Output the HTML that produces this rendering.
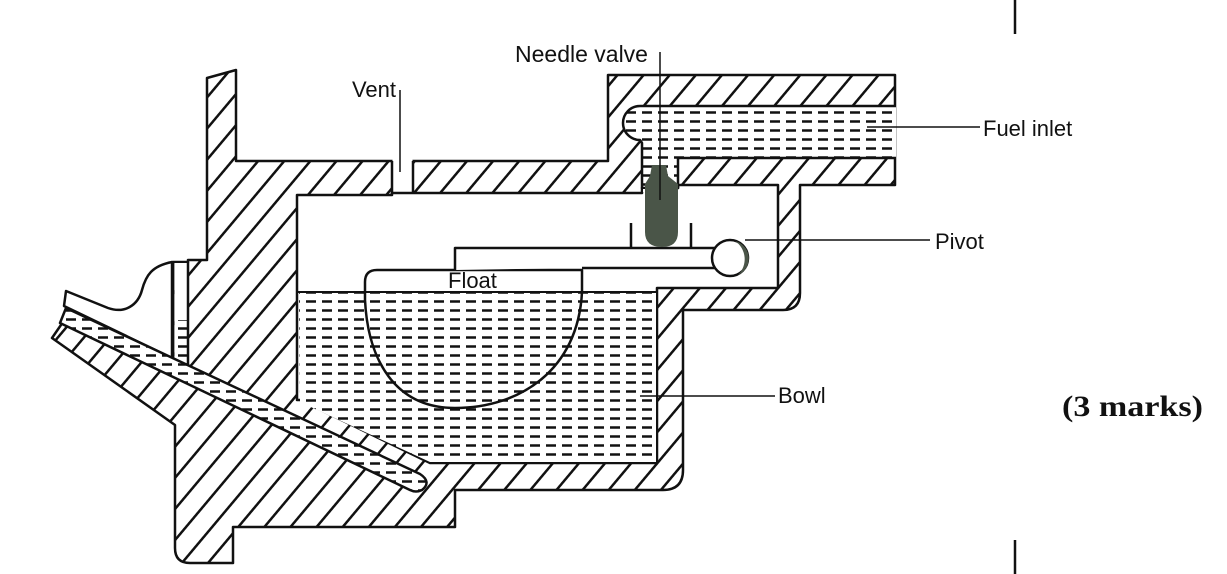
<!DOCTYPE html>
<html><head><meta charset="utf-8"><style>
html,body{margin:0;padding:0;background:#fff;}
svg{display:block;}
text{font-family:"Liberation Sans",Arial,sans-serif;fill:#111;}
</style></head><body>
<svg width="1227" height="574" viewBox="0 0 1227 574" xmlns="http://www.w3.org/2000/svg">
<defs>
<pattern id="h" patternUnits="userSpaceOnUse" width="20" height="20" patternTransform="rotate(40)">
<rect width="20" height="20" fill="#fff"/>
<line x1="0" y1="0" x2="0" y2="20" stroke="#111" stroke-width="5"/>
</pattern>
<pattern id="d" patternUnits="userSpaceOnUse" width="16" height="9">
<rect width="16" height="9" fill="#fff"/>
<line x1="2" y1="4.5" x2="12" y2="4.5" stroke="#111" stroke-width="2.5"/>
</pattern>
</defs>
<g stroke="#111" stroke-width="2.5" stroke-linejoin="round">
<path fill="url(#h)" d="M207,78 L236,70 L236,161 L608,161 L608,75 L895,75 L895,185 L800,185 L800,293 Q800,310 783,310 L683,310 L683,470 Q683,490 663,490 L455,490 L455,527 L233,527 L233,563 L190,563 Q175,563 175,548 L175,425 L52,338 L63,322 L173,372 L173,262 L188,262 L188,260 L207,260 Z"/>
<rect x="392.5" y="150" width="20" height="50" fill="#fff" stroke="none"/>
<line x1="392" y1="161" x2="392" y2="195"/>
<line x1="413" y1="161" x2="413" y2="193"/>
<path fill="#fff" d="M297,195 L392,195 L392,193 L642,193 L642,188 L678,188 L678,185 L778,185 L778,288 L657,288 L657,463 L430,463 L300,400 L297,400 Z"/>
<path fill="url(#d)" stroke="none" d="M299,293 L656,293 L656,462 L430,462 L300,402 Z"/>
<line x1="297" y1="292" x2="657" y2="292" stroke-width="2"/>
<path fill="url(#d)" d="M896,106 L640,106 A11,11 0 0 0 640,140 L642,143 L642,188 L678,188 L678,158 L896,158"/>
<rect x="643" y="189" width="34" height="3" fill="#fff" stroke="none"/>
<rect x="174.5" y="263" width="12.5" height="105" fill="#fff" stroke="none"/>
<rect x="175" y="320" width="12" height="48" fill="url(#d)" stroke="none"/>
<line x1="173" y1="262" x2="173" y2="360"/>
<line x1="188" y1="262" x2="188" y2="368"/>
<path fill="#fff" d="M66,291 L108,308 C125,314 138,305 142,290 C146,275 152,266 172,262 L172,358 L64,306 Z"/>
<path fill="url(#d)" d="M66,308 L420,474 Q432,482 422,490 Q416,493 410,490 L60,323 Z"/>
<path fill="none" d="M365,282 Q365,270 377,270 L582,270 L582,292 C578,370 520,408 455,408 C395,408 368,360 365,300 Z"/>
<path fill="#fff" d="M455,270 L455,248 L720,248 L720,268 L582,268"/>
<circle cx="730" cy="258" r="18" fill="#fff"/>
<path d="M735,241 A18,18 0 0 1 738,275 A22,22 0 0 0 735,241 Z" fill="#4a5548" stroke="none"/>
<line x1="631" y1="223" x2="631" y2="248"/>
<line x1="691" y1="223" x2="691" y2="248"/>
</g>
<path fill="#4a5548" d="M652,165 L666,165 L668,176 L678,184 L678,232 Q678,247 662,247 Q645,247 645,232 L645,184 L650,176 Z"/>
<g stroke="#111" stroke-width="1.5">
<line x1="400" y1="90" x2="400" y2="172"/>
<line x1="660" y1="52" x2="660" y2="200"/>
<line x1="867" y1="127" x2="980" y2="127"/>
<line x1="745" y1="240" x2="930" y2="240"/>
<line x1="640" y1="396" x2="775" y2="396"/>
<line x1="1015" y1="0" x2="1015" y2="34" stroke-width="2.5"/>
<line x1="1015" y1="540" x2="1015" y2="574" stroke-width="2.5"/>
</g>
<text x="515" y="62" font-size="23">Needle valve</text>
<text x="396" y="97" font-size="22" text-anchor="end">Vent</text>
<text x="983" y="136" font-size="22">Fuel inlet</text>
<text x="935" y="249" font-size="22">Pivot</text>
<text x="448" y="288" font-size="22">Float</text>
<text x="778" y="403" font-size="22">Bowl</text>
<text x="1062" y="416" font-size="30" font-weight="bold" textLength="141" lengthAdjust="spacingAndGlyphs" style="font-family:'Liberation Serif',serif">(3 marks)</text>
</svg>
</body></html>
